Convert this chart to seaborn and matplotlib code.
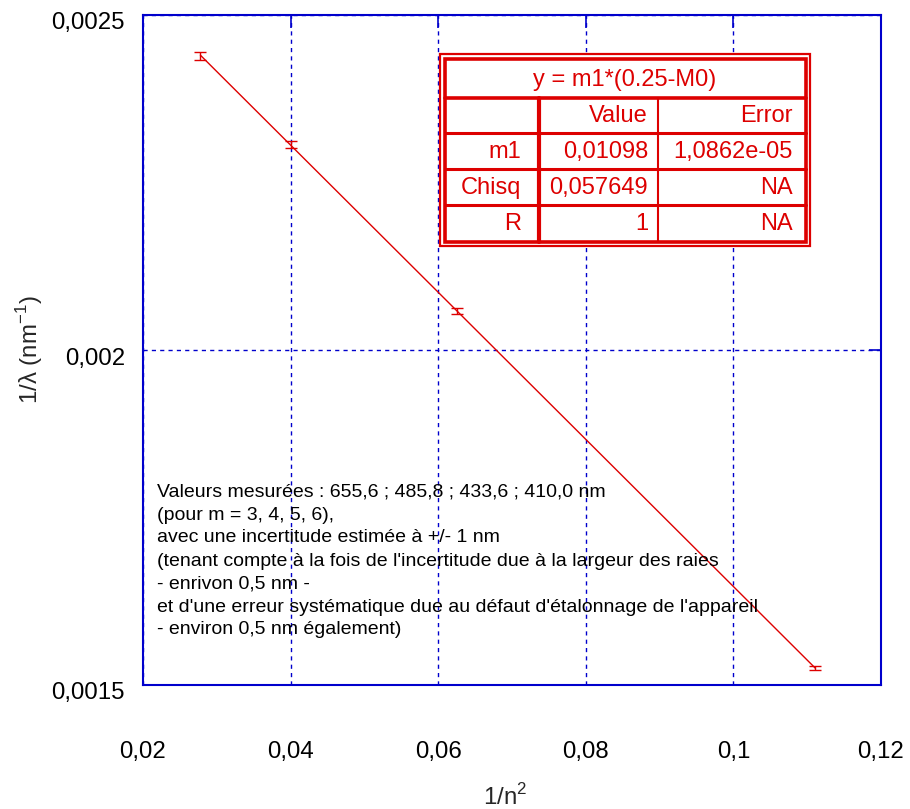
import numpy as np
import pandas as pd
import matplotlib
matplotlib.use("Agg")
import matplotlib.pyplot as plt
import matplotlib.transforms as mtransforms
from matplotlib.lines import Line2D
import seaborn as sns

# Balmer lines: principal quantum number of the upper level and measured wavelength (nm)
n_levels = [3, 4, 5, 6]
wavelengths_nm = [655.6, 485.8, 433.6, 410.0]
wavelength_err_nm = 1.0

# Fit result y = m1*(0.25 - x)
m1 = 0.01098
fit_rows = [["m1", "0,01098", "1,0862e-05"],
            ["Chisq", "0,057649", "NA"],
            ["R", "1", "NA"]]

x_ticks = [0.02, 0.04, 0.06, 0.08, 0.1, 0.12]
x_tick_labels = ["0,02", "0,04", "0,06", "0,08", "0,1", "0,12"]
y_ticks = [0.0015, 0.002, 0.0025]
y_tick_labels = ["0,0015", "0,002", "0,0025"]

note_lines = [
    "Valeurs mesurées : 655,6 ; 485,8 ; 433,6 ; 410,0 nm",
    "(pour m = 3, 4, 5, 6),",
    "avec une incertitude estimée à +/- 1 nm",
    "(tenant compte à la fois de l'incertitude due à la largeur des raies",
    "- enrivon 0,5 nm -",
    "et d'une erreur systématique due au défaut d'étalonnage de l'appareil",
    "- environ 0,5 nm également)",
]

sns.set_theme(style="white")
plt.rcParams["font.family"] = ["Liberation Sans", "DejaVu Sans"]
plt.rcParams["mathtext.fontset"] = "custom"
plt.rcParams["mathtext.rm"] = "Liberation Sans"

RED = "#dd0000"
BLUE = "#0000cc"
W, H = 910, 809
TICK_FS = 17.3
TABLE_FS = 17.0
NOTE_FS = 14.0

df = pd.DataFrame({"n": n_levels, "lam": wavelengths_nm})
df["x"] = 1.0 / df["n"] ** 2
df["y"] = 1.0 / df["lam"]
df["yerr"] = wavelength_err_nm / df["lam"] ** 2
df["fit"] = m1 * (0.25 - df["x"])

fig = plt.figure(figsize=(W / 100, H / 100), dpi=100)
ax = fig.add_axes([143 / W, 1 - 685 / H, (881 - 143) / W, (685 - 15) / H])

sns.lineplot(data=df, x="x", y="fit", ax=ax, color=RED, lw=1.0, legend=False)
ax.errorbar(df["x"], df["y"], yerr=df["yerr"], fmt="none", ecolor=RED,
            elinewidth=1.0, capsize=4, capthick=1.0)

ax.set_xlim(0.02, 0.12)
ax.set_ylim(0.0015, 0.0025)
ax.set_xticks(x_ticks)
ax.set_xticklabels(x_tick_labels)
ax.set_yticks(y_ticks)
ax.set_yticklabels(y_tick_labels)
ax.set_xlabel("")
ax.set_ylabel("")

ax.grid(True, color=BLUE, linestyle=(0, (3, 3)), linewidth=1.0)
for s in ax.spines.values():
    s.set_color(BLUE)
    s.set_linewidth(1.5)
ax.tick_params(axis="both", direction="in", length=9, width=1.2, color=BLUE,
               top=True, right=True, labelsize=TICK_FS, labelcolor="black")
ax.tick_params(axis="x", pad=40)
ax.tick_params(axis="y", pad=13)

# y tick labels sit a little below their ticks
shift = mtransforms.ScaledTranslation(0, -6 / 100, fig.dpi_scale_trans)
for lbl in ax.get_yticklabels():
    lbl.set_transform(lbl.get_transform() + shift)

fig.text(505 / W, 1 - 797 / H, r"1/n$^{2}$", ha="center", va="center",
         fontsize=TICK_FS)
fig.text(30 / W, 1 - 350 / H, r"1/λ (nm$^{-1}$)", ha="center", va="center",
         rotation=90, fontsize=TICK_FS)

# Explanatory note
for i, line in enumerate(note_lines):
    fig.text(157 / W, 1 - (492 + i * 23.0) / H, line, ha="left", va="center",
             fontsize=NOTE_FS, color="black")

# Fit result table
def px(x, y):
    return x / W, 1 - y / H

def hline(y, x0, x1, lw):
    fig.add_artist(Line2D([x0 / W, x1 / W], [1 - y / H, 1 - y / H],
                          color=RED, lw=lw, transform=fig.transFigure))

def vline(x, y0, y1, lw):
    fig.add_artist(Line2D([x / W, x / W], [1 - y0 / H, 1 - y1 / H],
                          color=RED, lw=lw, transform=fig.transFigure))

tx0, tx1, ty0, ty1 = 440, 810, 54, 246
ix0, ix1, iy0, iy1 = 444.5, 806, 59, 242
fig.add_artist(plt.Rectangle(px(tx0, ty1), (tx1 - tx0) / W, (ty1 - ty0) / H,
                             transform=fig.transFigure, facecolor="white",
                             edgecolor=RED, lw=1.6))
fig.add_artist(plt.Rectangle(px(ix0, iy1), (ix1 - ix0) / W, (iy1 - iy0) / H,
                             transform=fig.transFigure, facecolor="none",
                             edgecolor=RED, lw=2.6))
hline(98, ix0, ix1, 2.6)
hline(133, ix0, ix1, 2.2)
hline(169, ix0, ix1, 2.2)
hline(205, ix0, ix1, 2.2)
vline(539, 98, iy1, 3.0)
vline(658, 98, iy1, 1.5)

fig.text(*px(625, 80), "y = m1*(0.25-M0)", ha="center", va="center",
         fontsize=TABLE_FS, color=RED)
fig.text(*px(648, 116), "Value", ha="right", va="center", fontsize=TABLE_FS, color=RED)
fig.text(*px(793, 116), "Error", ha="right", va="center", fontsize=TABLE_FS, color=RED)
for (name, val, err), yc in zip(fit_rows, [152, 188, 224]):
    fig.text(*px(521, yc), name, ha="right", va="center", fontsize=TABLE_FS, color=RED)
    fig.text(*px(648, yc), val, ha="right", va="center", fontsize=TABLE_FS, color=RED)
    fig.text(*px(793, yc), err, ha="right", va="center", fontsize=TABLE_FS, color=RED)

fig.savefig("out.png", dpi=100, facecolor="white")
